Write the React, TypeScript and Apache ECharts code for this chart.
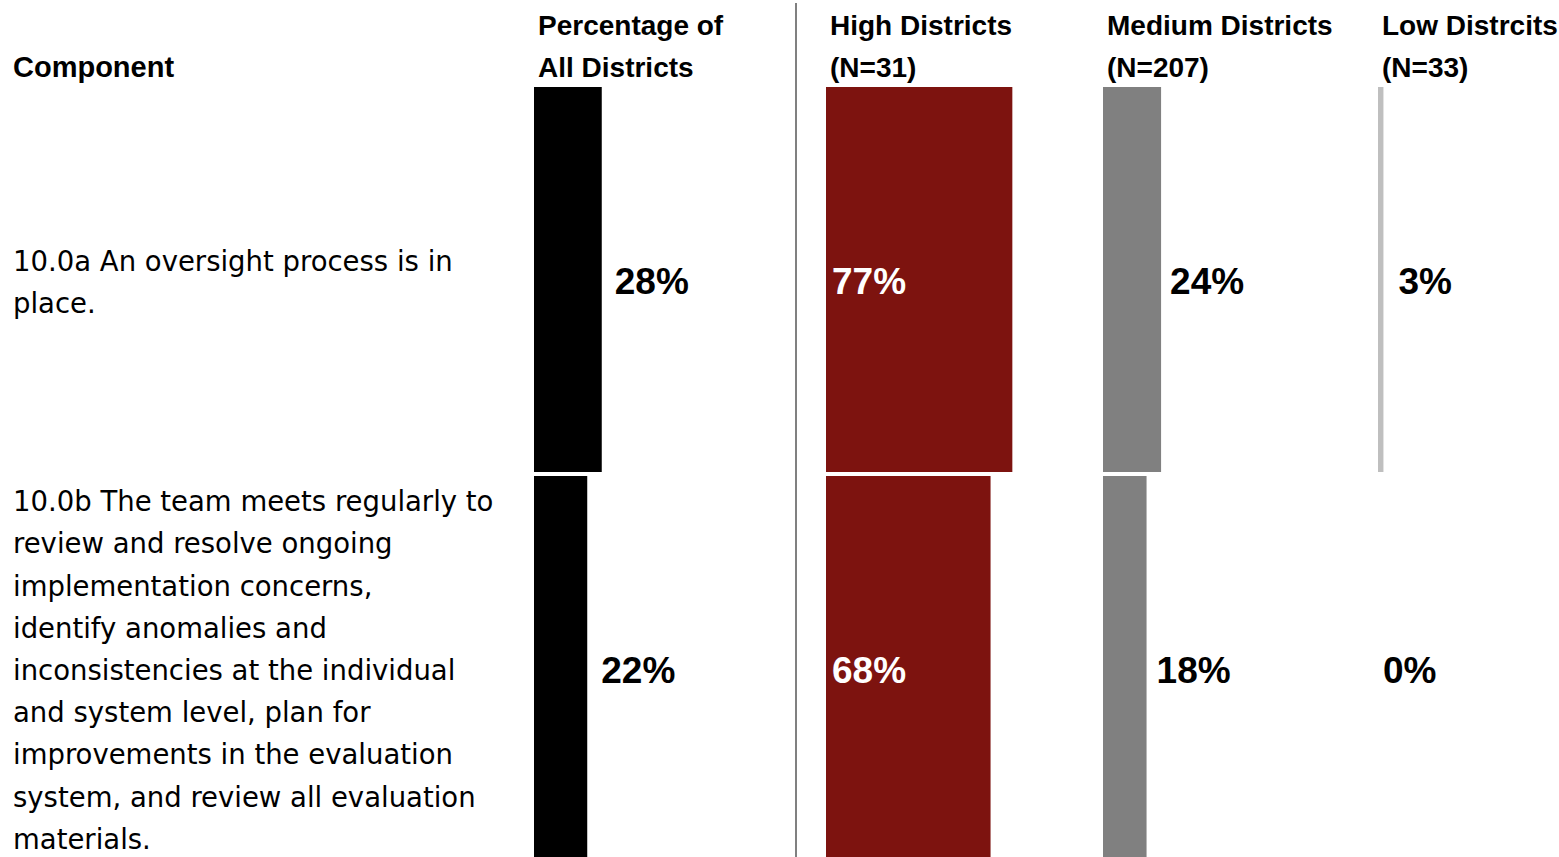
import React, { useEffect, useRef } from "react";
import * as echarts from "echarts";

const components = [
  "10.0a An oversight process is in\nplace.",
  "10.0b The team meets regularly to\nreview and resolve ongoing\nimplementation concerns,\nidentify anomalies and\ninconsistencies at the individual\nand system level, plan for\nimprovements in the evaluation\nsystem, and review all evaluation\nmaterials.",
];
const columnTitles = [
  "Percentage of\nAll Districts",
  "High Districts\n(N=31)",
  "Medium Districts\n(N=207)",
  "Low Distrcits\n(N=33)",
];
const allDistricts = [28, 22];
const highDistricts = [77, 68];
const mediumDistricts = [24, 18];
const lowDistricts = [3, 0];

const seriesValues = [allDistricts, highDistricts, mediumDistricts, lowDistricts];
const colors = ["#000000", "#7d130f", "#808080", "#bfbfbf"];
const gridLefts = [534, 826, 1103, 1378];
const labelColors = ["#000000", "#ffffff", "#000000", "#000000"];
const labelPositions = ["right", "insideLeft", "right", "right"];
const labelDistances = [
  [13, 14],
  [6, 6],
  [9, 10],
  [15, 5],
];

const REG_FONT = "'DejaVu Sans', sans-serif";
const BOLD_FONT = "'Liberation Sans', Arial, sans-serif";

export default function App() {
  const ref = useRef<HTMLDivElement>(null);
  useEffect(() => {
    if (!ref.current) return;
    const chart = echarts.init(ref.current, null, { renderer: "svg" });
    const rowIds = components.map((_, i) => "r" + i);
    const grids = gridLefts.map((left) => ({
      left,
      top: 85,
      width: 242,
      height: 778,
      containLabel: false,
    }));
    const xAxes = gridLefts.map((_, i) => ({
      type: "value",
      gridIndex: i,
      min: 0,
      max: 100,
      show: false,
    }));
    const yAxes = gridLefts.map((_, i) => ({
      type: "category",
      gridIndex: i,
      data: rowIds,
      inverse: true,
      show: false,
    }));
    const series = seriesValues.map((vals, i) => ({
      type: "bar",
      xAxisIndex: i,
      yAxisIndex: i,
      data: vals.map((v, j) => ({
        value: v,
        label: { distance: labelDistances[i][j] },
      })),
      barCategoryGap: 4,
      itemStyle: { color: colors[i] },
      label: {
        show: true,
        position: labelPositions[i],
        offset: [0, 2],
        formatter: "{c}%",
        color: labelColors[i],
        fontFamily: BOLD_FONT,
        fontWeight: "bold",
        fontSize: 37,
      },
    }));
    const headerTexts = columnTitles.map((t, i) => ({
      type: "text",
      left: gridLefts[i] + 4,
      top: 4,
      style: {
        text: t,
        fontFamily: BOLD_FONT,
        fontWeight: "bold",
        fontSize: 28,
        lineHeight: 42,
        fill: "#000",
      },
    }));
    const rowTops = [240, 480];
    const rowTexts = components.map((t, i) => ({
      type: "text",
      left: 13,
      top: rowTops[i],
      style: {
        text: t,
        fontFamily: REG_FONT,
        fontSize: 27.5,
        lineHeight: 42.2,
        fill: "#000",
      },
    }));
    chart.setOption({
      animation: false,
      backgroundColor: "#ffffff",
      grid: grids,
      xAxis: xAxes,
      yAxis: yAxes,
      series,
      graphic: [
        {
          type: "text",
          left: 13,
          top: 46,
          style: {
            text: "Component",
            fontFamily: BOLD_FONT,
            fontWeight: "bold",
            fontSize: 29,
            lineHeight: 42,
            fill: "#000",
          },
        },
        ...headerTexts,
        ...rowTexts,
        {
          type: "line",
          shape: { x1: 796, y1: 3, x2: 796, y2: 866 },
          style: { stroke: "#808080", lineWidth: 2 },
        },
      ],
    });
    return () => chart.dispose();
  }, []);
  return (
    <div
      ref={ref}
      style={{ position: "fixed", left: 0, top: 0, width: 1559, height: 866 }}
    />
  );
}
